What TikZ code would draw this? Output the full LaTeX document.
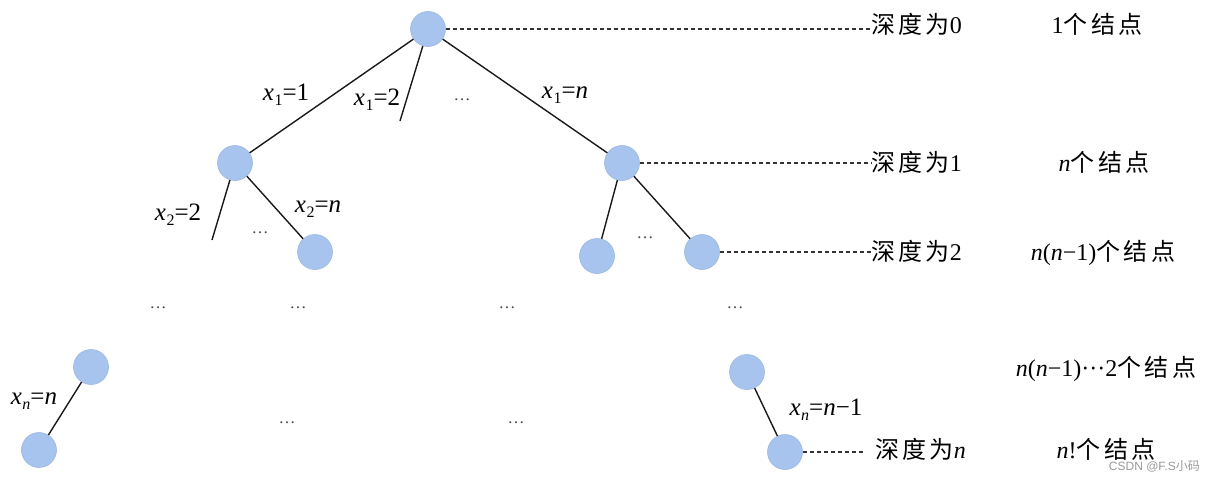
\documentclass[tikz,border=0pt]{standalone}
\usepackage{fontspec}
\setmainfont{Liberation Serif}
\newfontfamily\cjk[LetterSpace=14]{Noto Sans CJK SC}
\newfontfamily\cjkwm{Noto Sans CJK SC}
\newfontfamily\wmfont{Liberation Sans}
\definecolor{nodefill}{HTML}{A6C4EE}
\definecolor{nodeline}{HTML}{9CB8DE}
\definecolor{dashcol}{HTML}{333333}
\newcommand{\vx}[1]{\textit{x}\kern0.5pt\raisebox{-0.22em}{\fontsize{16}{16}\selectfont #1}}
\newcommand{\vn}{\textit{n}}
\begin{document}
\begin{tikzpicture}[x=1pt,y=-1pt,
  tn/.style={circle,fill=nodefill,draw=nodeline,line width=0.6pt,minimum size=35pt,inner sep=0pt},
  edge/.style={line width=1.4pt,black!90},
  guide/.style={dashcol,line width=1.3pt,dash pattern=on 4pt off 3pt},
  lbl/.style={font=\fontsize{25}{28}\selectfont,inner sep=0pt,anchor=base},
  dep/.style={font=\fontsize{24}{27}\selectfont,inner sep=0pt,anchor=base west},
  cnt/.style={font=\fontsize{24}{27}\selectfont,inner sep=0pt,anchor=base},
  dots/.style={font=\fontsize{17}{18}\selectfont,inner sep=0pt,text=black!70}]
\useasboundingbox (0,0) rectangle (1212,477);
% nodes
\node[tn] (r) at (428,29) {};
\node[tn] (a) at (235,163) {};
\node[tn] (b) at (622,163) {};
\node[tn] (a2) at (315,252) {};
\node[tn] (b1) at (597,256) {};
\node[tn] (b2) at (702,252) {};
\node[tn] (p) at (91,367) {};
\node[tn] (q) at (39,450) {};
\node[tn] (s) at (747,372) {};
\node[tn] (t) at (785,452) {};
\coordinate (r2) at (400,121);
\coordinate (a1) at (212,240);
% edges
\draw[edge] (r) -- (a);
\draw[edge] (r) -- (r2);
\draw[edge] (r) -- (b);
\draw[edge] (a) -- (a1);
\draw[edge] (a) -- (a2);
\draw[edge] (b) -- (b1);
\draw[edge] (b) -- (b2);
\draw[edge] (p) -- (q);
\draw[edge] (s) -- (t);
% depth labels
\node[dep] (d0) at (871,33) {\cjk 深度为\rmfamily 0};
\node[dep] (d1) at (871,171) {\cjk 深度为\rmfamily 1};
\node[dep] (d2) at (871,260) {\cjk 深度为\rmfamily 2};
\node[dep] (dn) at (875,458) {\cjk 深度为\rmfamily\textit{n}};
\draw[guide] (r.east) -- (d0.west |- r.east);
\draw[guide] (b.east) -- (d1.west |- b.east);
\draw[guide] (b2.east) -- (d2.west |- b2.east);
\draw[guide] (t.east) -- ([xshift=-12pt]dn.west |- t.east);
% counts
\node[cnt] (c0) at (1097,33) {1{\cjk 个结点}};
\node[cnt] (c1) at (1104,171) {\vn{\cjk 个结点}};
\node[cnt] (c2) at (1103,260) {\vn(\vn−1){\cjk 个结点}};
\node[cnt] (c3) at (1106,376) {\vn(\vn−1)···2{\cjk 个结点}};
\node[cnt] (c4) at (1106,458) {\vn!{\cjk 个结点}};
% edge labels
\node[lbl] (l1) at (286,100) {\vx{1}=1};
\node[lbl] (l2) at (377,105) {\vx{1}=2};
\node[lbl] (l3) at (565,98) {\vx{1}=\vn};
\node[lbl] (l4) at (178,220) {\vx{2}=2};
\node[lbl] (l5) at (318,212) {\vx{2}=\vn};
\node[lbl] (l6) at (34,404) {\vx{\vn}=\vn};
\node[lbl] (l7) at (826,415) {\vx{\vn}=\vn−1};
% ellipses
\node[dots] (e1) at (462,100) {…};
\node[dots] (e2) at (260,233) {…};
\node[dots] (e3) at (645,238) {…};
\node[dots] (e4) at (158,308) {…};
\node[dots] (e5) at (298,308) {…};
\node[dots] (e6) at (507,308) {…};
\node[dots] (e7) at (735,308) {…};
\node[dots] (e8) at (287,423) {…};
\node[dots] (e9) at (516,423) {…};
% watermark
\node[font=\fontsize{12}{13}\selectfont,text=black!40,inner sep=0pt,anchor=base east] (wm) at (1200,470) {\wmfont CSDN @F.S{\cjkwm 小码}};
\end{tikzpicture}
\end{document}
